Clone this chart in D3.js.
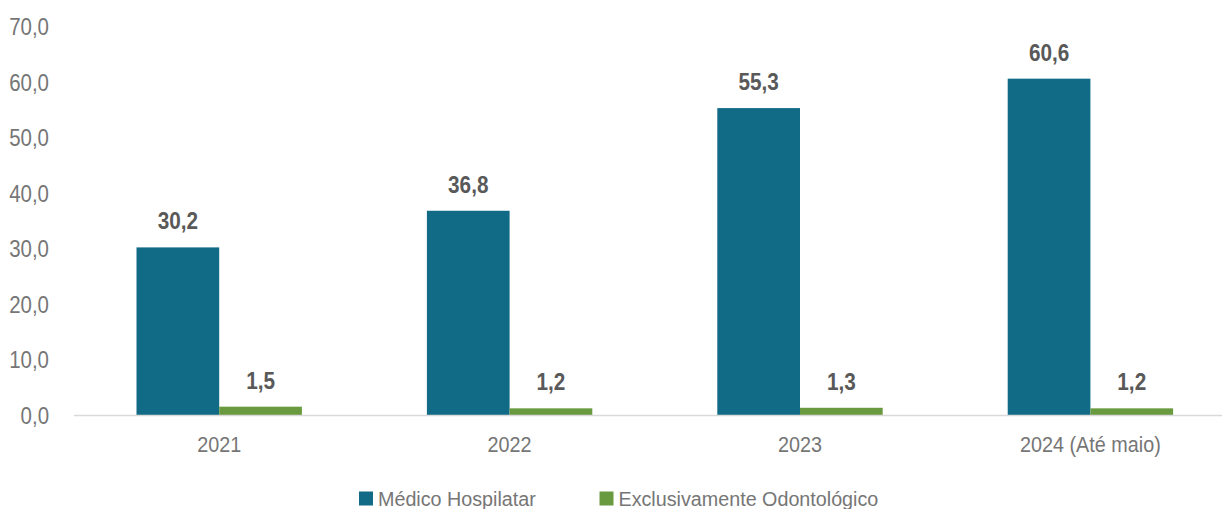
<!DOCTYPE html>
<html>
<head>
<meta charset="utf-8">
<script src="https://cdn.jsdelivr.net/npm/d3@7"></script>
<style>
  html, body { margin: 0; padding: 0; background: #fff; }
  svg { display: block; font-family: "Liberation Sans", Arial, sans-serif; }
</style>
</head>
<body>
<svg id="chart" width="1222" height="509"></svg>
<script>
const categories = ["2021", "2022", "2023", "2024 (Até maio)"];
const seriesNames = ["Médico Hospilatar", "Exclusivamente Odontológico"];
const medicoHospitalar = [30.2, 36.8, 55.3, 60.6];
const exclusivamenteOdonto = [1.5, 1.2, 1.3, 1.2];
const yTicks = [0, 10, 20, 30, 40, 50, 60, 70];
const colors = ["#126b86", "#6a9a3f"];

const svg = d3.select("#chart");
const W = 1222, H = 509;
const left = 74, zeroY = 415, topY = 26.5;
const step = 290.4;
// condensed look: horizontal squeeze applied to each text element
const squeezeTick = 0.87, squeezeVal = 0.89, squeezeCat = 0.9, squeezeLegend = 0.94;

const x0 = d3.scaleBand()
  .domain(categories)
  .range([left, left + step * categories.length])
  .paddingInner(0).paddingOuter(0);
const groupW = 165.4;
const x1 = d3.scaleBand()
  .domain(seriesNames)
  .range([0, groupW]);
const y = d3.scaleLinear().domain([0, 70]).range([zeroY, topY]);

const fmt = v => d3.format(".1f")(v).replace(".", ",");

// y-axis labels (no axis line, no gridlines)
const yAxis = d3.axisLeft(y).tickValues(yTicks).tickFormat(fmt).tickSize(0).tickPadding(0);
const yg = svg.append("g").attr("transform", `translate(49,0)`).call(yAxis);
yg.select(".domain").remove();
yg.selectAll("text")
  .attr("x", 0)
  .attr("fill", "#767676")
  .style("font-size", "23.5px")
  .attr("dy", "0.35em")
  .attr("transform", `scale(${squeezeTick},1)`);

// bars
const data = categories.map((c, i) => ({
  cat: c,
  vals: [
    { s: seriesNames[0], v: medicoHospitalar[i], c: colors[0] },
    { s: seriesNames[1], v: exclusivamenteOdonto[i], c: colors[1] }
  ]
}));

const groups = svg.append("g").selectAll("g")
  .data(data).join("g")
  .attr("transform", d => `translate(${x0(d.cat) + (x0.bandwidth() - groupW) / 2},0)`);

groups.selectAll("rect")
  .data(d => d.vals).join("rect")
  .attr("x", d => x1(d.s))
  .attr("width", x1.bandwidth())
  .attr("y", d => y(d.v))
  .attr("height", d => y(0) - y(d.v))
  .attr("fill", d => d.c);

groups.selectAll("text.val")
  .data(d => d.vals).join("text")
  .attr("class", "val")
  .attr("transform", d => `translate(${x1(d.s) + x1.bandwidth() / 2},${y(d.v) - 18}) scale(${squeezeVal},1)`)
  .attr("text-anchor", "middle")
  .attr("fill", "#595959")
  .style("font-size", "23.3px")
  .style("font-weight", "bold")
  .text(d => fmt(d.v));

// x axis baseline and labels
const xAxis = d3.axisBottom(x0).tickSize(0).tickPadding(0);
const xg = svg.append("g").attr("transform", `translate(0,${zeroY})`).call(xAxis);
xg.select(".domain").remove();
xg.append("line")
  .attr("x1", left).attr("x2", W)
  .attr("y1", 0.5).attr("y2", 0.5)
  .attr("stroke", "#d9d9d9").attr("stroke-width", 1.5);
xg.selectAll(".tick text")
  .attr("fill", "#767676")
  .attr("dy", 0)
  .attr("y", 37.5)
  .style("font-size", "22px")
  .attr("transform", `scale(${squeezeCat},1)`);

// legend
const legendItems = [
  { name: seriesNames[0], color: colors[0], x: 359 },
  { name: seriesNames[1], color: colors[1], x: 599.5 }
];
const legendBase = 505.5;
const lg = svg.append("g").selectAll("g").data(legendItems).join("g")
  .attr("transform", d => `translate(${d.x},0)`);
lg.append("rect").attr("x", 0).attr("y", legendBase - 14).attr("width", 14).attr("height", 14)
  .attr("fill", d => d.color);
lg.append("text")
  .attr("transform", `translate(19,${legendBase}) scale(${squeezeLegend},1)`)
  .attr("fill", "#767676")
  .style("font-size", "21px")
  .text(d => d.name);
</script>
</body>
</html>
